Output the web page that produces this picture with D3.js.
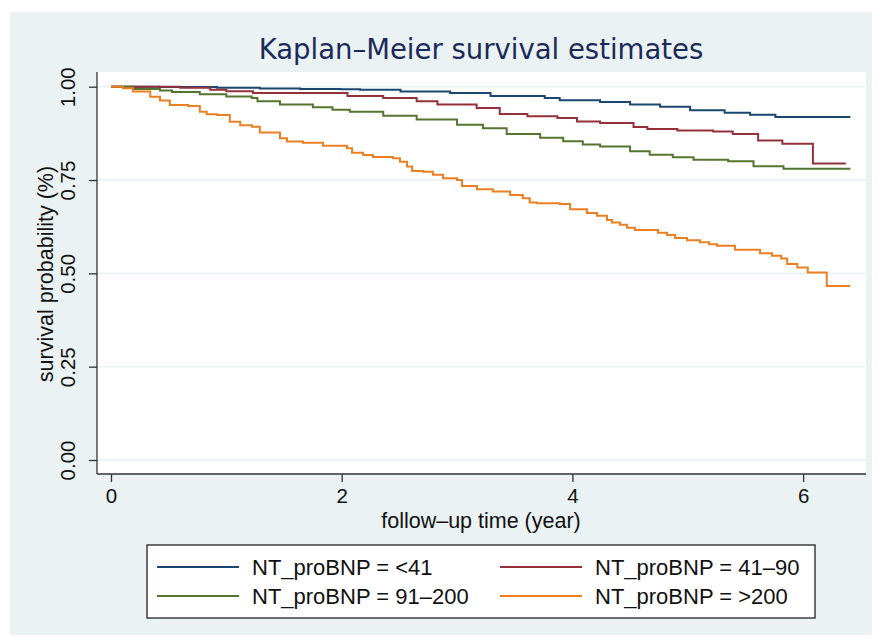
<!DOCTYPE html>
<html><head><meta charset="utf-8">
<script src="https://cdn.jsdelivr.net/npm/d3@7"></script>
<style>body{margin:0;background:#fff}svg{display:block}text{font-family:"Liberation Sans",Arial,sans-serif;fill:#111}</style>
</head><body><svg id="c" width="880" height="642"></svg>
<script>
// ---- data ----
const seriesNames = ["NT_proBNP = <41","NT_proBNP = 41–90","NT_proBNP = 91–200","NT_proBNP = >200"];
const seriesColors = ["#1a476f","#93303a","#55752f","#ec7f22"];
const xTicks = [0,2,4,6];
const yTicks = [0,0.25,0.5,0.75,1];

const blueT = [0,0.42,0.92,1.29,1.64,1.99,2.16,2.51,2.94,3.29,3.76,3.89,4.24,4.50,4.76,5.02,5.32,5.54,5.76,6.41];
const blueS = [1,0.999,0.997,0.995,0.994,0.993,0.992,0.987,0.983,0.975,0.970,0.964,0.959,0.952,0.946,0.937,0.930,0.925,0.919,0.919];

const redT = [0,0.60,0.86,1.00,1.23,2.05,2.36,2.65,2.83,3.17,3.37,3.61,3.87,4.04,4.24,4.53,4.65,4.91,5.22,5.39,5.61,5.82,6.085,6.37];
const redS = [1,0.997,0.992,0.988,0.983,0.975,0.970,0.961,0.952,0.943,0.927,0.921,0.916,0.907,0.903,0.892,0.887,0.883,0.880,0.873,0.856,0.847,0.794,0.794];

const greenT = [0,0.19,0.425,0.53,0.77,1.00,1.22,1.27,1.465,1.75,1.92,2.07,2.36,2.65,3.00,3.225,3.43,3.72,3.92,4.09,4.24,4.50,4.67,4.87,5.05,5.35,5.57,5.83,6.41];
const greenS = [1,0.994,0.990,0.986,0.980,0.974,0.970,0.961,0.952,0.945,0.938,0.933,0.922,0.912,0.898,0.889,0.873,0.863,0.854,0.845,0.840,0.827,0.818,0.811,0.804,0.800,0.787,0.780,0.780];

const orangeT = [0,0.104,0.19,0.34,0.425,0.51,0.67,0.77,0.83,0.92,1.03,1.12,1.222,1.29,1.465,1.526,1.665,1.838,2.046,2.09,2.185,2.27,2.445,2.505,2.566,2.61,2.705,2.79,2.878,3.0,3.043,3.173,3.31,3.46,3.57,3.63,3.693,3.89,3.98,4.127,4.213,4.30,4.343,4.413,4.473,4.543,4.742,4.82,4.89,4.994,5.106,5.185,5.254,5.41,5.627,5.73,5.81,5.862,5.95,6.04,6.205,6.407];
const orangeS = [1,0.996,0.987,0.973,0.963,0.951,0.948,0.933,0.926,0.924,0.906,0.897,0.893,0.877,0.862,0.853,0.850,0.842,0.835,0.823,0.817,0.812,0.808,0.799,0.786,0.774,0.772,0.764,0.755,0.750,0.734,0.725,0.719,0.710,0.701,0.690,0.688,0.686,0.672,0.662,0.654,0.643,0.636,0.630,0.622,0.616,0.609,0.603,0.595,0.589,0.583,0.578,0.574,0.563,0.554,0.547,0.540,0.525,0.516,0.502,0.466,0.466];

const seriesT = [blueT, redT, greenT, orangeT];
const seriesS = [blueS, redS, greenS, orangeS];

// ---- drawing ----
const svg = d3.select("#c");
const bg = "#eaf2f3";
svg.append("rect").attr("x",10).attr("y",12).attr("width",862).attr("height",623).attr("fill",bg);

const plot = {left:97, right:866, top:72, bottom:474};
svg.append("rect").attr("x",plot.left).attr("y",plot.top).attr("width",plot.right-plot.left).attr("height",plot.bottom-plot.top).attr("fill","#fff");

const x = d3.scaleLinear().domain([0,6]).range([111,803.1]);
const y = d3.scaleLinear().domain([0,1]).range([460,86.7]);

// gridlines
svg.append("g").selectAll("line").data(yTicks).join("line")
  .attr("x1",plot.left).attr("x2",plot.right)
  .attr("y1",d=>y(d)).attr("y2",d=>y(d))
  .attr("stroke",bg).attr("stroke-width",1.6);

// title
svg.append("text").attr("x",481).attr("y",59).attr("text-anchor","middle")
  .style("font-family","'DejaVu Sans',sans-serif").style("font-size","27.5px").style("fill","#1c2a5a")
  .text("Kaplan–Meier survival estimates");

// y axis
const yAxis = d3.axisLeft(y).tickValues(yTicks).tickFormat(d3.format(".2f")).tickSize(8).tickSizeOuter(0);
const gy = svg.append("g").attr("transform",`translate(${plot.left},0)`).call(yAxis);
gy.select(".domain").remove();
gy.append("line").attr("x1",0).attr("x2",0).attr("y1",plot.top).attr("y2",plot.bottom).attr("stroke","#333").attr("stroke-width",1.3);
gy.selectAll(".tick line").attr("stroke","#333").attr("stroke-width",1.3);
gy.selectAll(".tick text").attr("transform","rotate(-90)").attr("x",0).attr("y",-22).attr("dy",0)
  .attr("text-anchor","middle").style("font-size","20.5px").style("fill","#111");

// x axis
const xAxis = d3.axisBottom(x).tickValues(xTicks).tickFormat(d3.format("d")).tickSize(8).tickSizeOuter(0);
const gx = svg.append("g").attr("transform",`translate(0,${plot.bottom})`).call(xAxis);
gx.select(".domain").remove();
gx.append("line").attr("x1",plot.left).attr("x2",plot.right).attr("y1",0).attr("y2",0).attr("stroke","#333").attr("stroke-width",1.3);
gx.selectAll(".tick line").attr("stroke","#333").attr("stroke-width",1.3);
gx.selectAll(".tick text").attr("y",29).attr("dy",0).style("font-size","20.5px").style("fill","#111");

// axis titles
svg.append("text").attr("x",481).attr("y",528).attr("text-anchor","middle").style("font-size","21.5px").text("follow–up time (year)");
svg.append("text").attr("transform","translate(53,274) rotate(-90)").attr("text-anchor","middle").style("font-size","21.5px").text("survival probability (%)");

// curves
const line = d3.line().x(d=>x(d[0])).y(d=>y(d[1])).curve(d3.curveStepAfter);
seriesT.forEach((ts,i)=>{
  const pts = ts.map((t,j)=>[t, seriesS[i][j]]);
  svg.append("path").datum(pts).attr("d",line).attr("fill","none")
    .attr("stroke",seriesColors[i]).attr("stroke-width",2);
});

// legend
const lg = svg.append("g");
lg.append("rect").attr("x",147).attr("y",545).attr("width",668).attr("height",73).attr("fill","#fff").attr("stroke","#222").attr("stroke-width",1.3);
const legPos = [[157,567],[500,567],[157,596],[500,596]];
seriesNames.forEach((n,i)=>{
  const [lx,ly] = legPos[i];
  lg.append("line").attr("x1",lx).attr("x2",lx+82).attr("y1",ly).attr("y2",ly).attr("stroke",seriesColors[i]).attr("stroke-width",2);
  lg.append("text").attr("x",lx+95).attr("y",ly+8).style("font-size","22px").text(n);
});
</script></body></html>
